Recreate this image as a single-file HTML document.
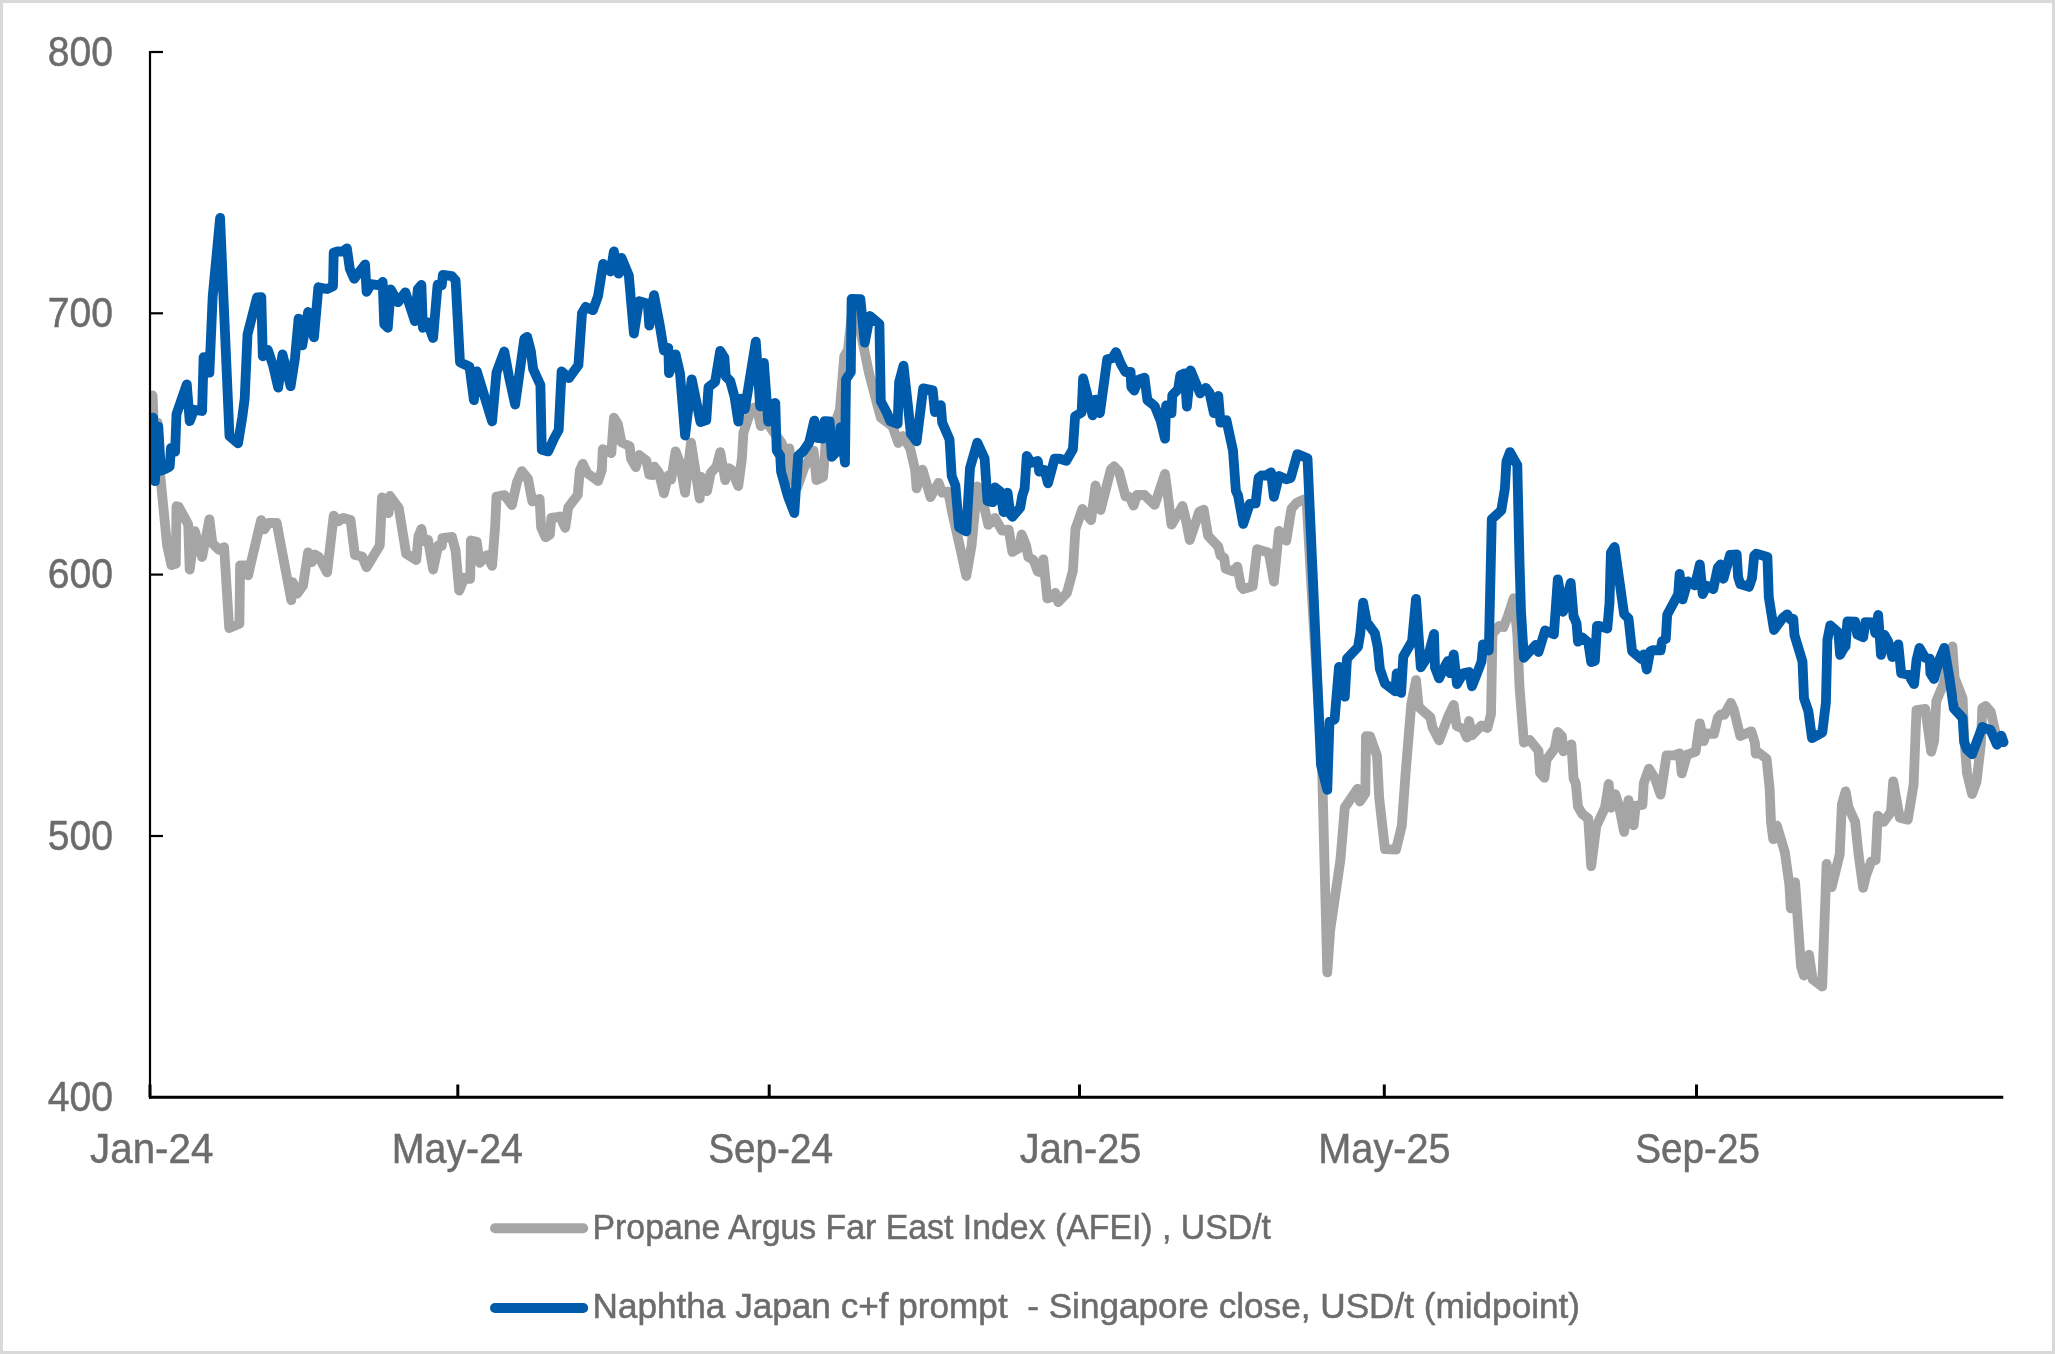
<!DOCTYPE html>
<html><head><meta charset="utf-8"><title>Propane AFEI vs Naphtha Japan</title>
<style>
html,body{margin:0;padding:0;background:#fff;}
body{width:2055px;height:1354px;overflow:hidden;}
svg{display:block;}
text{font-family:"Liberation Sans",sans-serif;fill:#6c6c6c;stroke:#6c6c6c;stroke-width:0.5px;}
svg{will-change:transform;}
</style></head><body>
<svg width="2055" height="1354" viewBox="0 0 2055 1354">
<rect x="0" y="0" width="2055" height="1354" fill="#ffffff"/>
<rect x="1.5" y="1.5" width="2052" height="1351" fill="none" stroke="#d9d9d9" stroke-width="3"/>
<clipPath id="plot"><rect x="150" y="40" width="1900" height="1057"/></clipPath>
<path d="M152.6,395.5 L155.0,461.1 L157.6,422.6 L160.2,474.7 L167.0,544.8 L171.4,565.1 L175.8,563.8 L176.5,506.2 L178.7,506.8 L188.2,524.3 L189.7,569.5 L194.8,531.1 L202.1,557.1 L209.4,519.4 L212.4,543.3 L218.9,549.7 L224.1,547.2 L229.2,628.0 L239.4,623.7 L240.1,565.4 L247.5,565.3 L248.2,575.3 L251.1,562.3 L261.1,520.1 L264.3,529.3 L268.7,522.9 L276.7,522.9 L281.1,546.3 L291.3,600.2 L292.8,582.2 L297.2,593.6 L303.0,585.7 L308.1,552.3 L311.8,562.2 L314.7,554.5 L319.1,557.2 L327.1,572.4 L333.7,515.7 L338.8,521.2 L343.2,517.9 L350.5,519.9 L354.9,555.0 L362.2,556.5 L366.6,567.3 L379.8,545.5 L382.0,497.4 L388.5,513.2 L390.0,496.0 L398.8,508.2 L406.1,553.6 L416.3,560.0 L418.5,536.0 L421.4,528.9 L423.6,541.0 L428.0,539.8 L433.1,569.5 L438.2,545.7 L441.7,546.0 L442.4,538.2 L451.9,536.9 L455.6,550.6 L459.2,590.6 L464.4,577.8 L470.2,578.9 L470.9,540.5 L476.8,541.8 L479.7,562.8 L487.0,555.1 L492.1,565.8 L495.1,527.2 L496.5,496.5 L504.6,495.2 L511.9,505.1 L517.0,481.9 L521.8,471.1 L528.0,478.9 L532.3,501.4 L539.6,498.9 L541.1,527.2 L545.5,537.3 L549.9,534.5 L551.3,517.9 L558.7,516.8 L560.1,516.4 L565.2,527.8 L568.2,507.5 L577.7,495.0 L579.9,470.2 L582.8,463.8 L587.2,473.1 L598.1,481.0 L601.8,470.2 L602.8,449.1 L611.3,453.2 L613.9,417.7 L617.9,424.1 L621.5,442.4 L629.6,446.1 L631.0,458.5 L635.8,467.1 L639.1,455.0 L646.4,460.7 L649.3,474.6 L653.0,475.1 L654.4,466.7 L658.8,472.4 L663.9,493.4 L668.3,475.5 L671.2,479.5 L675.6,451.3 L680.0,462.9 L685.1,492.7 L691.0,442.6 L699.7,498.5 L701.2,476.9 L707.0,491.2 L710.7,473.1 L716.5,466.5 L720.2,452.1 L725.3,480.2 L728.8,468.2 L733.9,471.6 L735.4,478.9 L738.3,486.1 L741.9,458.5 L743.4,432.9 L751.4,408.8 L756.5,406.7 L760.9,426.1 L765.3,419.9 L772.6,430.7 L781.4,442.4 L785.1,451.7 L789.4,448.4 L791.6,478.9 L797.5,486.8 L804.1,468.0 L813.6,450.6 L816.5,480.2 L823.1,476.8 L825.6,443.9 L831.1,429.2 L835.5,421.9 L839.9,409.5 L844.3,356.0 L847.9,350.2 L851.6,316.5 L855.2,312.3 L860.4,331.2 L869.1,373.6 L877.2,404.3 L880.8,417.5 L892.5,426.3 L898.4,443.0 L902.7,436.0 L910.1,448.2 L915.2,470.2 L916.6,488.3 L922.5,469.6 L930.5,497.1 L938.6,482.8 L942.2,492.7 L948.1,491.5 L952.5,514.0 L959.8,546.2 L966.3,576.0 L971.5,546.2 L977.3,486.4 L983.2,502.3 L988.3,524.8 L994.9,517.9 L1002.2,530.7 L1008.7,529.6 L1012.4,551.9 L1018.8,548.2 L1021.7,534.5 L1026.1,545.3 L1028.3,557.0 L1033.4,559.9 L1037.8,571.6 L1040.7,572.1 L1043.3,559.3 L1047.3,598.5 L1052.4,596.4 L1055.3,592.9 L1058.2,602.1 L1067.0,592.8 L1072.9,570.8 L1075.4,529.2 L1082.4,508.9 L1091.1,520.2 L1095.5,485.5 L1100.6,510.0 L1110.9,469.2 L1114.1,466.5 L1118.9,471.4 L1125.5,496.3 L1129.9,497.0 L1133.5,505.6 L1137.2,494.8 L1144.5,495.0 L1154.7,504.9 L1165.0,473.8 L1168.6,501.4 L1171.5,524.6 L1176.7,516.0 L1182.5,506.0 L1185.4,517.5 L1189.8,540.0 L1199.3,511.6 L1203.7,509.6 L1208.1,535.8 L1218.3,546.7 L1220.5,555.5 L1224.2,557.7 L1225.6,568.7 L1233.0,571.4 L1237.3,566.6 L1241.0,586.2 L1243.2,589.0 L1252.7,586.2 L1257.1,549.1 L1268.8,552.6 L1273.9,581.6 L1279.0,530.8 L1286.3,540.7 L1291.4,508.7 L1296.5,502.9 L1303.9,499.4 L1306.5,500.0 L1311.6,590.0 L1322.0,765.0 L1327.3,972.4 L1330.2,930.0 L1340.4,860.0 L1341.2,850.6 L1344.8,807.5 L1357.5,788.7 L1359.9,801.5 L1365.3,793.6 L1366.0,736.2 L1370.1,736.4 L1377.0,755.9 L1379.2,798.0 L1385.0,849.2 L1396.0,849.7 L1401.8,825.8 L1405.5,774.6 L1411.3,704.0 L1416.0,680.1 L1418.7,707.0 L1430.4,717.2 L1432.5,727.4 L1439.1,740.4 L1447.9,717.2 L1453.7,704.9 L1456.7,726.0 L1463.2,728.9 L1466.9,737.5 L1469.1,721.0 L1472.0,735.3 L1481.5,725.4 L1487.4,728.0 L1491.0,714.3 L1492.5,633.9 L1499.1,626.0 L1503.5,627.1 L1507.8,616.3 L1513.7,598.2 L1517.3,633.9 L1519.5,686.5 L1523.9,742.6 L1529.8,740.0 L1538.5,750.8 L1540.0,772.7 L1544.4,777.7 L1546.6,759.6 L1554.6,748.6 L1557.8,732.0 L1561.9,736.2 L1563.4,751.4 L1571.4,744.4 L1573.6,778.6 L1575.8,783.4 L1578.0,806.8 L1582.4,814.1 L1588.2,818.5 L1591.2,866.2 L1596.3,826.2 L1605.1,807.2 L1608.7,784.0 L1610.9,807.8 L1615.3,794.2 L1619.0,805.7 L1624.1,831.9 L1628.5,800.1 L1633.6,825.3 L1635.8,805.7 L1642.4,805.0 L1643.8,783.1 L1648.9,768.6 L1654.8,778.0 L1660.6,794.6 L1666.5,755.5 L1675.3,755.1 L1679.6,753.3 L1681.8,773.4 L1687.0,754.6 L1695.7,751.6 L1699.8,723.3 L1703.8,741.2 L1706.0,733.5 L1714.0,733.9 L1717.7,718.0 L1720.6,714.5 L1724.2,714.9 L1730.8,702.8 L1733.7,709.2 L1740.3,736.1 L1751.3,731.3 L1754.9,742.9 L1755.7,753.7 L1758.6,752.5 L1766.6,758.9 L1769.6,788.2 L1771.0,821.8 L1773.2,839.2 L1776.9,825.6 L1784.9,852.5 L1789.3,884.3 L1790.8,908.3 L1795.1,882.3 L1801.0,966.2 L1803.9,975.5 L1809.0,954.7 L1812.7,979.4 L1822.2,986.5 L1826.6,864.0 L1831.7,887.1 L1839.7,854.4 L1841.9,804.3 L1845.6,791.3 L1848.5,807.2 L1855.1,821.8 L1858.7,855.4 L1863.1,887.8 L1866.1,875.4 L1871.2,861.5 L1875.6,860.1 L1877.8,815.7 L1883.7,821.9 L1891.0,811.8 L1893.2,781.3 L1899.7,817.7 L1907.8,819.7 L1913.6,784.8 L1916.5,710.2 L1925.3,708.9 L1931.2,751.7 L1934.1,740.9 L1936.3,701.2 L1943.6,683.6 L1948.0,663.1 L1952.4,646.5 L1954.6,677.7 L1962.6,698.2 L1964.1,736.5 L1967.0,773.1 L1972.1,794.1 L1976.5,781.9 L1980.9,743.9 L1982.3,708.0 L1985.7,706.0 L1990.7,711.7 L1997.7,742.4 L2003.5,742.4" fill="none" stroke="#a5a5a5" stroke-width="9.8" stroke-linejoin="round" stroke-linecap="round" clip-path="url(#plot)"/>
<path d="M153.2,417.7 L154.9,481.1 L158.3,426.7 L160.9,470.6 L166.0,468.6 L169.7,466.7 L171.0,447.9 L175.1,451.6 L176.5,414.1 L186.8,384.3 L189.7,421.2 L194.1,409.8 L202.1,411.0 L203.6,357.2 L209.4,372.7 L212.7,296.5 L220.1,218.0 L223.3,293.6 L229.5,436.0 L238.0,443.4 L242.3,417.0 L244.7,398.7 L247.5,334.5 L257.0,297.4 L261.3,297.2 L262.8,356.3 L267.9,350.0 L273.0,365.2 L278.2,387.7 L282.5,354.4 L290.6,386.2 L295.0,357.9 L298.6,318.6 L302.3,345.3 L308.1,312.0 L314.0,337.3 L318.4,287.2 L327.1,289.0 L333.0,286.3 L333.7,252.6 L337.4,251.3 L342.5,251.7 L346.9,248.4 L349.8,268.7 L354.2,278.8 L365.1,264.5 L366.6,291.9 L371.0,284.2 L379.8,285.4 L382.7,282.0 L384.2,324.3 L387.8,327.8 L390.7,289.4 L398.0,302.2 L405.4,292.3 L414.9,321.2 L417.8,289.2 L421.4,285.0 L422.9,327.8 L427.3,322.2 L433.1,338.0 L437.5,285.7 L437.8,284.8 L441.7,285.4 L442.9,274.8 L451.9,276.1 L455.6,280.4 L460.0,362.3 L469.5,366.7 L473.9,400.2 L476.8,371.3 L492.1,421.4 L496.5,372.5 L504.3,351.5 L508.9,376.2 L515.1,404.5 L524.3,338.9 L527.2,336.9 L530.9,351.3 L533.1,368.9 L540.4,385.0 L541.8,449.7 L548.1,451.4 L554.3,438.0 L558.7,430.0 L561.6,371.3 L568.9,378.2 L578.4,365.2 L582.0,313.3 L585.7,306.9 L593.0,310.2 L598.1,295.8 L603.2,263.8 L610.6,271.5 L613.9,251.4 L618.6,273.7 L621.5,257.9 L628.8,275.3 L633.9,333.6 L639.1,301.1 L647.8,303.8 L649.3,325.6 L654.0,295.2 L659.5,323.6 L663.9,350.4 L668.3,347.9 L669.0,373.1 L675.6,354.4 L680.0,373.3 L685.1,435.6 L691.7,379.3 L700.5,422.1 L706.3,420.1 L708.5,387.2 L715.1,382.0 L720.2,350.8 L724.4,357.5 L725.8,376.5 L730.2,380.9 L734.6,397.0 L738.3,421.6 L741.2,398.6 L744.9,409.2 L755.8,341.6 L760.2,406.3 L763.9,362.8 L768.2,421.6 L771.2,404.3 L775.3,403.0 L776.7,450.3 L780.2,455.9 L781.1,471.6 L788.0,496.5 L794.3,513.1 L798.2,455.6 L803.3,451.2 L809.2,442.4 L814.3,420.6 L817.2,438.0 L823.1,438.6 L824.5,421.2 L829.6,421.4 L831.8,456.8 L837.0,451.2 L840.6,427.2 L845.0,462.7 L846.0,379.4 L850.8,372.1 L851.6,299.0 L860.4,299.2 L864.7,342.7 L869.9,316.0 L879.4,323.9 L880.8,401.3 L886.7,412.3 L890.3,421.1 L897.6,423.8 L899.1,382.3 L903.5,365.7 L908.6,411.6 L910.8,433.5 L916.6,441.4 L923.2,388.4 L932.7,390.4 L934.9,412.1 L940.8,405.2 L942.2,422.5 L949.5,439.4 L951.7,476.0 L955.4,485.5 L959.0,527.2 L966.3,531.4 L970.0,468.0 L977.3,442.6 L984.6,458.5 L987.5,500.9 L992.7,502.2 L994.9,487.4 L1000.0,491.4 L1003.6,512.1 L1007.6,492.7 L1010.2,514.0 L1012.4,516.8 L1020.2,507.6 L1022.4,495.2 L1024.6,488.6 L1026.8,455.9 L1031.2,462.9 L1037.8,461.0 L1039.2,471.6 L1044.4,469.8 L1048.0,483.3 L1054.6,458.7 L1059.7,458.7 L1066.3,460.7 L1072.9,449.2 L1075.1,416.3 L1081.6,412.6 L1083.1,378.4 L1092.6,415.4 L1095.5,399.6 L1099.9,413.2 L1107.2,359.4 L1112.3,358.3 L1116.0,352.1 L1121.1,364.4 L1125.5,372.2 L1130.6,371.8 L1131.3,387.0 L1134.3,390.5 L1138.7,379.7 L1144.5,377.7 L1147.4,400.2 L1154.7,406.0 L1160.6,420.6 L1165.0,438.7 L1166.1,405.5 L1171.5,413.2 L1172.3,395.1 L1178.1,389.2 L1180.3,375.3 L1184.7,373.3 L1186.9,406.6 L1190.6,370.4 L1200.1,393.4 L1205.9,387.9 L1209.6,392.9 L1213.9,413.2 L1218.3,396.0 L1220.5,422.7 L1226.4,420.1 L1233.0,450.6 L1235.9,490.8 L1238.1,495.6 L1243.2,523.9 L1249.8,503.8 L1255.6,503.4 L1258.5,478.0 L1261.5,475.3 L1265.8,475.6 L1271.0,472.3 L1273.9,496.8 L1279.0,476.0 L1286.3,479.3 L1290.7,478.0 L1297.3,454.1 L1307.5,458.3 L1313.4,590.0 L1321.0,765.0 L1327.3,789.8 L1329.5,721.6 L1334.6,719.4 L1339.0,666.9 L1344.8,696.6 L1347.0,658.7 L1358.0,647.0 L1360.2,633.9 L1363.1,602.6 L1366.8,622.2 L1374.8,633.1 L1377.7,647.0 L1379.9,668.9 L1385.0,683.6 L1395.3,691.4 L1396.7,673.5 L1401.1,692.9 L1403.3,656.5 L1412.1,641.2 L1416.0,598.9 L1420.8,667.3 L1428.2,655.8 L1434.0,634.0 L1435.0,667.5 L1439.1,678.3 L1445.0,666.0 L1447.9,661.1 L1450.1,673.2 L1453.7,654.5 L1457.0,684.1 L1463.2,673.3 L1469.1,672.0 L1472.0,686.3 L1477.1,673.3 L1481.5,661.6 L1483.0,644.3 L1488.8,650.5 L1491.8,519.2 L1501.3,510.4 L1504.9,488.5 L1506.4,461.4 L1510.0,452.1 L1517.3,465.1 L1519.5,561.6 L1521.0,611.3 L1523.9,657.8 L1535.6,645.0 L1538.5,652.0 L1545.1,630.4 L1553.9,634.4 L1557.8,579.3 L1563.1,611.8 L1570.7,582.9 L1573.6,617.1 L1574.4,617.7 L1576.6,623.6 L1578.0,641.7 L1582.4,637.6 L1588.3,642.6 L1591.2,662.1 L1594.9,660.8 L1597.0,625.8 L1599.2,625.9 L1607.3,628.5 L1609.5,603.1 L1610.9,552.7 L1614.6,547.0 L1618.2,572.4 L1624.1,614.1 L1628.5,618.5 L1632.1,651.3 L1641.6,659.2 L1643.8,654.4 L1646.8,669.5 L1650.1,651.3 L1652.6,650.1 L1660.6,650.4 L1662.1,641.1 L1665.8,638.9 L1667.2,614.8 L1678.2,594.3 L1679.6,574.0 L1682.6,599.3 L1687.7,581.3 L1695.0,585.4 L1699.8,564.5 L1702.7,594.2 L1706.7,585.7 L1713.3,589.0 L1717.7,568.0 L1720.6,564.5 L1723.5,578.8 L1730.1,554.9 L1736.7,554.3 L1738.1,576.8 L1740.3,584.1 L1749.1,586.8 L1752.0,578.2 L1754.2,555.6 L1756.4,553.6 L1767.4,557.0 L1768.8,597.3 L1774.0,630.0 L1782.8,617.8 L1787.2,614.3 L1790.4,619.4 L1793.3,619.0 L1794.5,635.3 L1802.5,661.6 L1804.0,698.2 L1808.4,711.3 L1812.0,738.2 L1822.3,732.5 L1825.9,702.6 L1827.4,639.7 L1830.3,625.3 L1838.3,632.4 L1840.1,654.9 L1844.2,647.7 L1845.6,646.3 L1847.4,621.4 L1855.1,621.6 L1857.3,634.6 L1863.2,637.3 L1865.4,622.2 L1873.4,622.3 L1875.2,633.0 L1878.2,615.0 L1881.0,654.9 L1884.4,634.8 L1888.0,641.2 L1892.4,657.1 L1898.3,644.3 L1901.2,673.3 L1908.5,674.8 L1914.1,684.1 L1916.5,660.2 L1919.5,647.9 L1925.3,658.0 L1929.7,658.7 L1930.4,673.3 L1934.1,679.0 L1939.2,660.2 L1944.3,647.9 L1949.4,677.7 L1953.8,708.4 L1962.6,717.9 L1964.1,742.0 L1967.0,749.4 L1972.1,754.3 L1982.3,726.9 L1986.0,728.7 L1990.4,729.8 L1997.0,744.8 L2001.3,735.6 L2003.5,742.0" fill="none" stroke="#005baa" stroke-width="9.8" stroke-linejoin="round" stroke-linecap="round" clip-path="url(#plot)"/>
<line x1="150" y1="51" x2="150" y2="1098.8" stroke="#000000" stroke-width="2.2"/>
<line x1="149" y1="1097.3" x2="2003.3" y2="1097.3" stroke="#000000" stroke-width="3"/>
<line x1="150" y1="52.0" x2="163" y2="52.0" stroke="#000000" stroke-width="2.2"/>
<text x="113" y="65.7" font-size="42.2" text-anchor="end" textLength="65.3" lengthAdjust="spacingAndGlyphs">800</text>
<line x1="150" y1="313.3" x2="163" y2="313.3" stroke="#000000" stroke-width="2.2"/>
<text x="113" y="327.0" font-size="42.2" text-anchor="end" textLength="65.3" lengthAdjust="spacingAndGlyphs">700</text>
<line x1="150" y1="574.6" x2="163" y2="574.6" stroke="#000000" stroke-width="2.2"/>
<text x="113" y="588.3" font-size="42.2" text-anchor="end" textLength="65.3" lengthAdjust="spacingAndGlyphs">600</text>
<line x1="150" y1="836.0" x2="163" y2="836.0" stroke="#000000" stroke-width="2.2"/>
<text x="113" y="849.7" font-size="42.2" text-anchor="end" textLength="65.3" lengthAdjust="spacingAndGlyphs">500</text>
<text x="113" y="1111.0" font-size="42.2" text-anchor="end" textLength="65.3" lengthAdjust="spacingAndGlyphs">400</text>
<line x1="150" y1="1084.5" x2="150" y2="1097.3" stroke="#000000" stroke-width="3"/>
<text x="151.70" y="1163" font-size="42.2" text-anchor="middle" textLength="123.2" lengthAdjust="spacingAndGlyphs">Jan-24</text>
<line x1="457.8" y1="1084.5" x2="457.8" y2="1097.3" stroke="#000000" stroke-width="3"/>
<text x="457.40" y="1163" font-size="42.2" text-anchor="middle" textLength="131.2" lengthAdjust="spacingAndGlyphs">May-24</text>
<line x1="769.2" y1="1084.5" x2="769.2" y2="1097.3" stroke="#000000" stroke-width="3"/>
<text x="770.65" y="1163" font-size="42.2" text-anchor="middle" textLength="124.9" lengthAdjust="spacingAndGlyphs">Sep-24</text>
<line x1="1079.5" y1="1084.5" x2="1079.5" y2="1097.3" stroke="#000000" stroke-width="3"/>
<text x="1080.65" y="1163" font-size="42.2" text-anchor="middle" textLength="121.7" lengthAdjust="spacingAndGlyphs">Jan-25</text>
<line x1="1384.3" y1="1084.5" x2="1384.3" y2="1097.3" stroke="#000000" stroke-width="3"/>
<text x="1384.45" y="1163" font-size="42.2" text-anchor="middle" textLength="132.3" lengthAdjust="spacingAndGlyphs">May-25</text>
<line x1="1696.5" y1="1084.5" x2="1696.5" y2="1097.3" stroke="#000000" stroke-width="3"/>
<text x="1697.65" y="1163" font-size="42.2" text-anchor="middle" textLength="124.7" lengthAdjust="spacingAndGlyphs">Sep-25</text>
<line x1="495" y1="1228.2" x2="583.2" y2="1228.2" stroke="#a5a5a5" stroke-width="10" stroke-linecap="round"/>
<line x1="495" y1="1308" x2="583.2" y2="1308" stroke="#005baa" stroke-width="10" stroke-linecap="round"/>
<text x="592.5" y="1238.6" font-size="34.7" textLength="678.5" lengthAdjust="spacingAndGlyphs" xml:space="preserve">Propane Argus Far East Index (AFEI) , USD/t</text>
<text x="592.5" y="1318.3" font-size="34.7" textLength="987.5" lengthAdjust="spacingAndGlyphs" xml:space="preserve">Naphtha Japan c+f prompt  - Singapore close, USD/t (midpoint)</text>
</svg>
</body></html>
